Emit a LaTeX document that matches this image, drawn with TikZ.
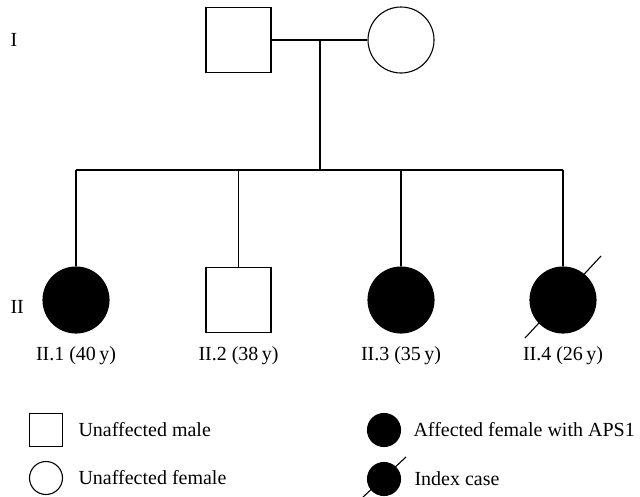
\documentclass[tikz,border=0pt]{standalone}
\usepackage{fontspec}
\setmainfont{Liberation Serif}
\begin{document}
\begin{tikzpicture}[x=1pt,y=-1pt,line width=1.1pt,
    male/.style={draw,rectangle,minimum size=65pt,inner sep=0pt},
    female/.style={draw,circle,minimum size=66pt,inner sep=0pt},
    affected/.style={female,fill=black},
    keymale/.style={draw,rectangle,minimum size=33pt,inner sep=0pt},
    keyfemale/.style={draw,circle,minimum size=33pt,inner sep=0pt},
    keyaffected/.style={keyfemale,fill=black},
    txt/.style={inner sep=0pt,font=\fontsize{20}{24}\selectfont}]
    \useasboundingbox (0,0) rectangle (640,496);

    % Drawing generation I
    \node (genI) [txt,anchor=west] at (10,40) {I};
    \node (father) [male] at (238.5,40) {};
    \node (mother) [female] at (401,40) {};
    \coordinate (union) at (320,40);
    \coordinate (sibs) at (320,170);
    \draw (father) -- (mother);
    \draw (union) -- (sibs);

    % Drawing sibship line
    \coordinate (s1) at (76,170);
    \coordinate (s2) at (238.5,170);
    \coordinate (s3) at (401,170);
    \coordinate (s4) at (563,170);
    \draw (s1) -- (s4);

    % Drawing generation II
    \node (genII) [txt,anchor=west] at (10,307) {II};
    \node (c1) [affected] at (76,300) {};
    \node (c2) [male] at (238.5,300) {};
    \node (c3) [affected] at (401,300) {};
    \node (c4) [affected] at (563,300) {};
    \draw (s1) -- (c1);
    \draw (s2) -- (c2);
    \draw (s3) -- (c3);
    \draw (s4) -- (c4);
    \draw ([shift={(-38,38)}]c4.center) -- ([shift={(38,-44)}]c4.center);

    % Marking ages
    \node (l1) [txt] at (76,356) {II.1 (40\,y)};
    \node (l2) [txt] at (238.5,356) {II.2 (38\,y)};
    \node (l3) [txt] at (401,356) {II.3 (35\,y)};
    \node (l4) [txt] at (563,356) {II.4 (26\,y)};

    % Drawing key
    \node (k1) [keymale] at (46,430) {};
    \node [txt,anchor=west] at (78,430) {Unaffected male};
    \node (k2) [keyfemale] at (46,478) {};
    \node [txt,anchor=west] at (78,478) {Unaffected female};
    \node (k3) [keyaffected] at (384,430) {};
    \node [txt,anchor=west] at (413,430) {Affected female with APS1};
    \node (k4) [keyaffected] at (384,479) {};
    \node [txt,anchor=west] at (414,479) {Index case};
    \draw ([shift={(-22,19)}]k4.center) -- ([shift={(22,-22)}]k4.center);
\end{tikzpicture}
\end{document}
